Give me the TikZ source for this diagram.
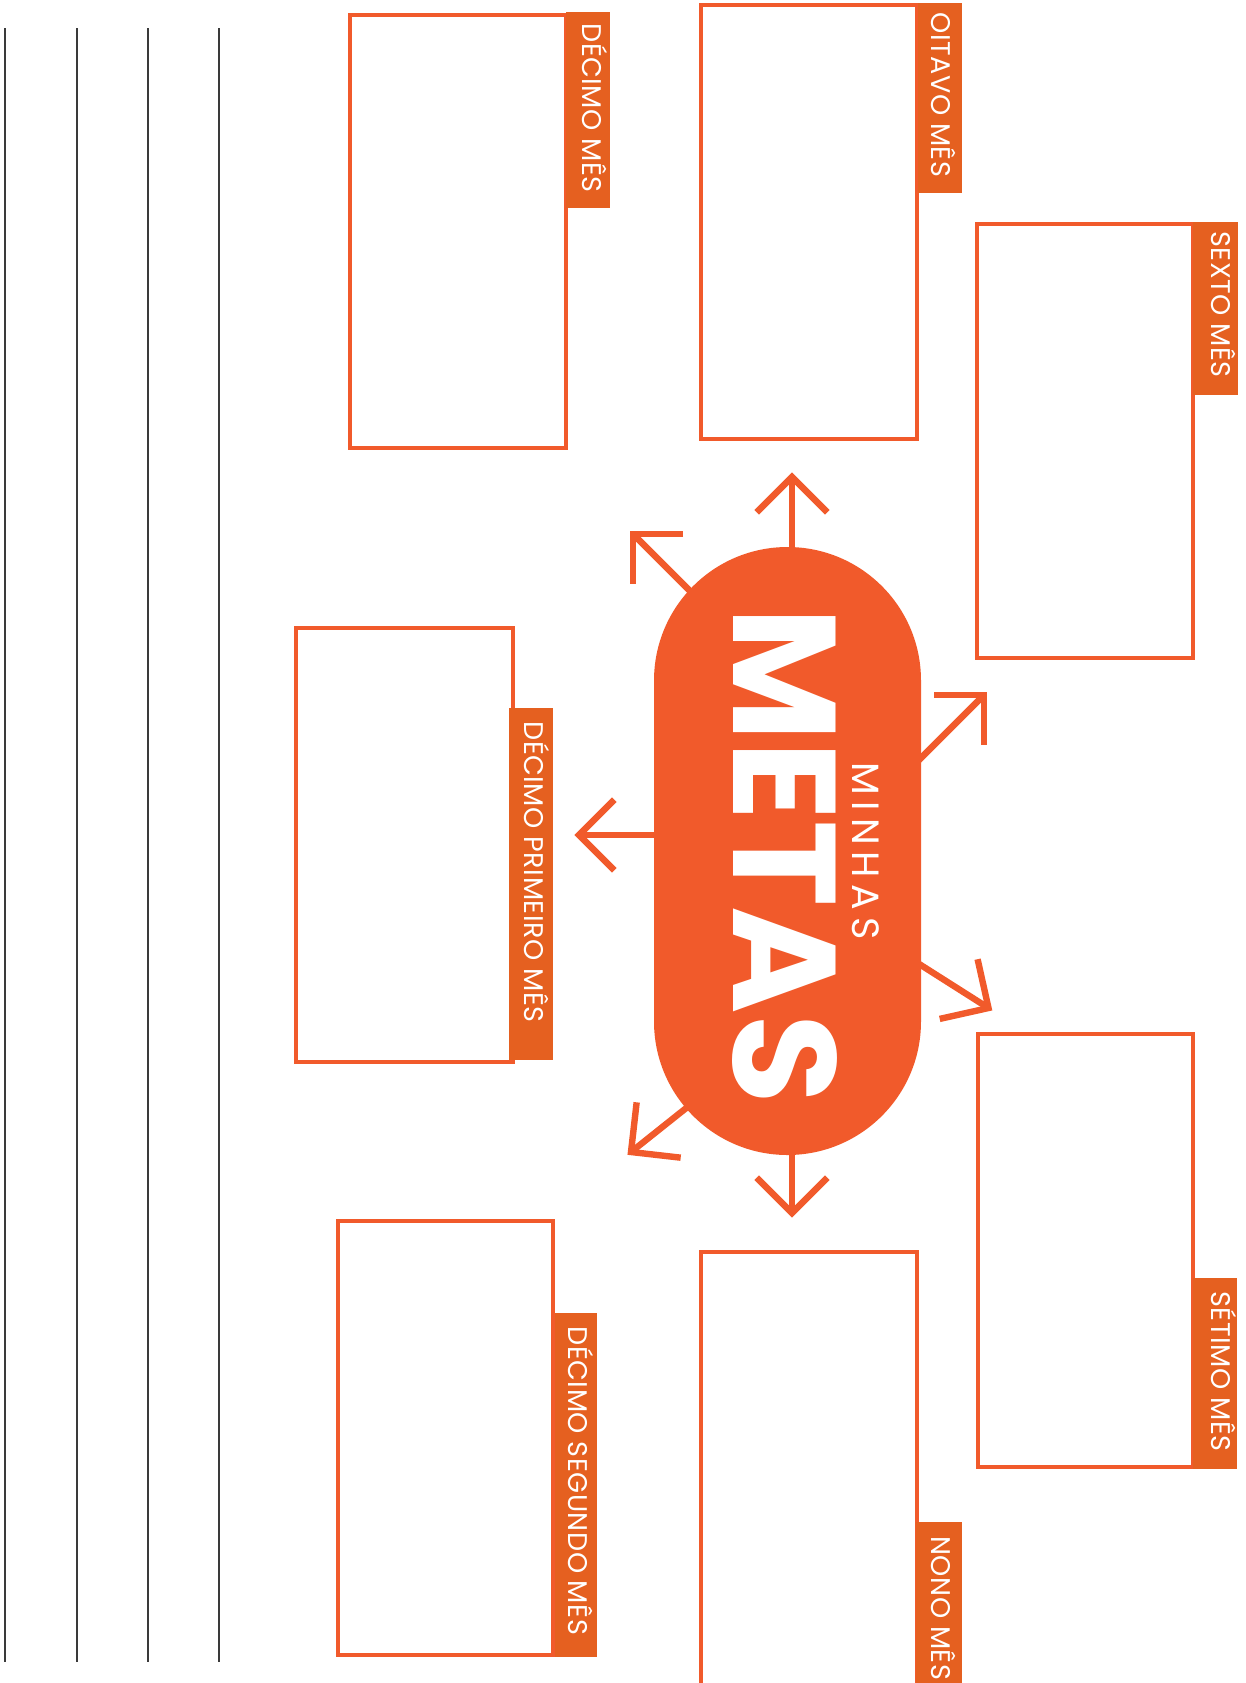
\documentclass[tikz,border=0pt]{standalone}
\usepackage{fontspec}
\setmainfont{Poppins}
\usetikzlibrary{calc}
\definecolor{mainor}{HTML}{F15A2B}
\definecolor{tabor}{HTML}{E56020}
\definecolor{rulegray}{HTML}{3A3A3A}
\begin{document}
\begin{tikzpicture}[x=0.5pt,y=-0.5pt,
  box/.style={draw=mainor, line width=2pt},
  tabfill/.style={fill=tabor},
  lab/.style={text=white, rotate=-90, anchor=west, inner sep=0pt,
    font=\fontsize{13.5pt}{13.5pt}\selectfont\addfontfeature{LetterSpace=2},
    text height=9.4pt, text depth=0pt},
  arr/.style={draw=mainor, line width=3.2pt},
  ruleline/.style={draw=rulegray, line width=1pt}]
\useasboundingbox (0,0) rectangle (1246,1683);

% left rules
\foreach \xx/\nm in {5/r1,77/r2,148/r3,219/r4}{
  \coordinate (\nm a) at (\xx,28);
  \coordinate (\nm b) at (\xx,1662);
  \draw[ruleline] (\nm a) -- (\nm b);
}

% boxes
\draw[box] (350,15) rectangle (566,448);
\draw[box] (701,5) rectangle (917,439);
\draw[box] (977,224) rectangle (1193,658);
\draw[box] (978,1034) rectangle (1193,1467);
\draw[box] (701,1700) -- (701,1252) -- (917,1252) -- (917,1700);
\draw[box] (338,1221) rectangle (553,1655);
\draw[box] (296,628) rectangle (513,1062);

% tabs
\fill[tabfill] (566,12) rectangle (610,208);
\fill[tabfill] (918,3) rectangle (962,193);
\fill[tabfill] (1193,222) rectangle (1238,395);
\fill[tabfill] (1193,1278) rectangle (1237,1469);
\fill[tabfill] (916,1522) rectangle (962,1700);
\fill[tabfill] (555,1313) rectangle (597,1657);
\fill[tabfill] (509,708) rectangle (553,1060);

% labels
\node[lab] (l10) at (591.5,23) {DÉCIMO MÊS};
\node[lab] (l8) at (941,12) {OITAVO MÊS};
\node[lab] (l6) at (1221,231) {SEXTO MÊS};
\node[lab] (l7) at (1221,1291) {SÉTIMO MÊS};
\node[lab] (l9) at (941,1536) {NONO MÊS};
\node[lab] (l12) at (577.5,1326) {DÉCIMO SEGUNDO MÊS};
\node[lab] (l11) at (534,721) {DÉCIMO PRIMEIRO MÊS};

% arrows: start coordinates inside capsule, tip coordinates
\coordinate (s1) at (792,600);  \coordinate (t1) at (792,477);
\coordinate (s2) at (704,605);  \coordinate (t2) at (633,534);
\coordinate (s3) at (899,780);  \coordinate (t3) at (984,695);
\coordinate (s4) at (700,835);  \coordinate (t4) at (579,835);
\coordinate (s5) at (878.7,938.3); \coordinate (t5) at (988.5,1008);
\coordinate (s6) at (732.7,1071); \coordinate (t6) at (631,1152);
\coordinate (s7) at (792,1100); \coordinate (t7) at (792,1213);

\foreach \k/\ba in {1/90,2/45,3/135,4/0,5/212.4,6/-38.5,7/270}{
  \draw[arr] (s\k) -- (t\k);
  \draw[arr] ($(t\k)+(\ba-45:50)$) -- (t\k) -- ($(t\k)+(\ba+45:50)$);
}

% capsule
\fill[mainor, rounded corners=66.75pt] (654,547) rectangle (921,1155);
\coordinate (cap) at (787.5,851);

\node[text=white, rotate=-90, inner sep=0pt,
  font=\fontsize{73pt}{73pt}\selectfont\bfseries] (metas) at (785,856) {METAS};
\node[text=white, rotate=-90, inner sep=0pt,
  font=\fontsize{19pt}{19pt}\selectfont\addfontfeature{LetterSpace=18}] (minhas) at (866,851) {MINHAS};
\end{tikzpicture}
\end{document}
